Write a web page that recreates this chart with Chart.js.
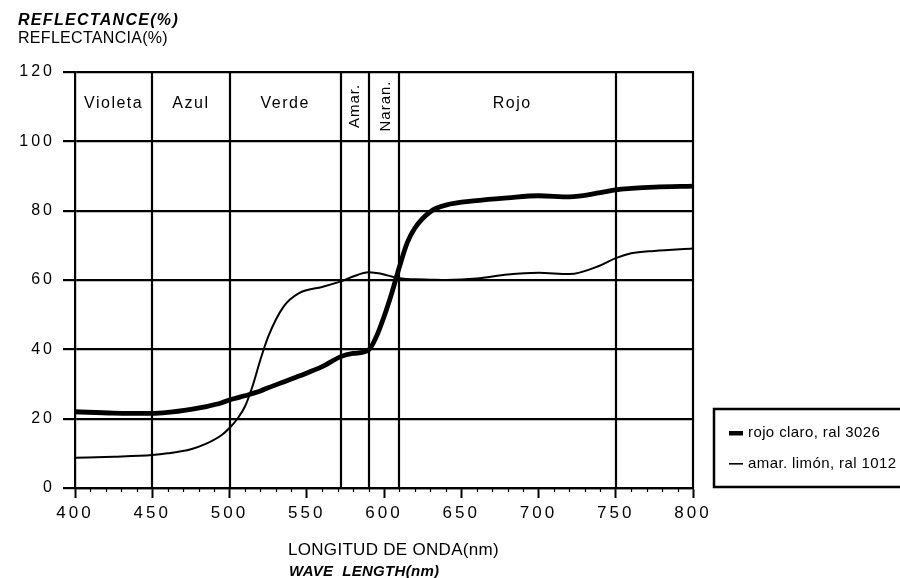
<!DOCTYPE html>
<html>
<head>
<meta charset="utf-8">
<script src="https://cdn.jsdelivr.net/npm/chart.js@4"></script>
<style>
  html, body { margin: 0; padding: 0; background: #fff; }
  #chart { display: block; }
</style>
</head>
<body>
<canvas id="chart" width="900" height="578"></canvas>
<script>
// Datos
const longitudes = [400, 425, 450, 460, 475, 485, 495, 500, 505, 510, 515, 520, 525, 535, 545, 560, 572, 580, 590, 595, 600, 605, 610, 615, 620, 630, 640, 660, 680, 700, 720, 740, 750, 760, 775, 800];
const rojoClaro = [22.0, 21.6, 21.5, 21.8, 22.7, 23.5, 24.6, 25.4, 26.0, 26.6, 27.3, 28.0, 28.9, 30.6, 32.3, 35.0, 37.9, 38.8, 39.8, 43.6, 49.4, 56.2, 63.8, 70.7, 75.0, 79.7, 81.6, 82.9, 83.7, 84.3, 84.0, 85.2, 86.0, 86.4, 86.8, 87.1];
const amarLimon = [8.7, 9.0, 9.5, 10.0, 11.2, 12.8, 15.3, 17.3, 19.9, 23.5, 29.5, 37.0, 43.6, 52.3, 56.2, 58.0, 59.6, 61.0, 62.2, 62.0, 61.6, 61.0, 60.5, 60.3, 60.2, 60.1, 60.0, 60.4, 61.6, 62.1, 61.7, 64.2, 66.3, 67.7, 68.4, 69.1];

const seriesLabels = ['rojo claro, ral 3026', 'amar. limón, ral 1012'];
const yTicks = [0, 20, 40, 60, 80, 100, 120];
const xTicks = [400, 450, 500, 550, 600, 650, 700, 750, 800];

// Bandas de color
const bandLimits = [450, 500, 572, 590, 610, 750, 800];
const bandNames = ['Violeta', 'Azul', 'Verde', 'Amar.', 'Naran.', 'Rojo'];
const bandCenters = [425, 475, 536, 581, 601, 683];
const bandRotated = [false, false, false, true, true, false];

const FONT = "'Liberation Sans', Arial, Helvetica, sans-serif";

const decoPlugin = {
    id: 'deco',
    beforeDraw(chart) {
        chart.ctx.letterSpacing = '3px';
    },
    beforeDatasetsDraw(chart) {
        const { ctx, chartArea, scales } = chart;
        ctx.save();
        ctx.letterSpacing = '0px';
        ctx.strokeStyle = '#000';
        ctx.lineWidth = 2.2;
        bandLimits.forEach(v => {
            const x = Math.round(scales.x.getPixelForValue(v));
            ctx.beginPath();
            ctx.moveTo(x, chartArea.top - 1);
            ctx.lineTo(x, chartArea.bottom);
            ctx.stroke();
        });
        // subdivisiones cada 10 nm
        ctx.lineWidth = 1.2;
        for (let v = scales.x.min + 10; v < scales.x.max; v += 10) {
            if (v % 50 === 0) continue;
            const x = Math.round(scales.x.getPixelForValue(v)) + 0.5;
            ctx.beginPath();
            ctx.moveTo(x, chartArea.bottom);
            ctx.lineTo(x, chartArea.bottom + 4);
            ctx.stroke();
        }
        ctx.restore();
    },
    afterDraw(chart) {
        const { ctx, scales } = chart;
        ctx.save();
        ctx.fillStyle = '#000';

        // nombres de las bandas
        ctx.textBaseline = 'middle';
        ctx.textAlign = 'center';
        bandNames.forEach((name, i) => {
            const x = scales.x.getPixelForValue(bandCenters[i]);
            if (bandRotated[i]) {
                ctx.save();
                ctx.font = '15px ' + FONT;
                ctx.letterSpacing = '1px';
                ctx.translate(x, 106);
                ctx.rotate(-Math.PI / 2);
                ctx.fillText(name, 0, 0);
                ctx.restore();
            } else {
                ctx.font = '16px ' + FONT;
                ctx.letterSpacing = '1.5px';
                ctx.fillText(name, x, 104);
            }
        });

        // títulos de ejes
        ctx.textAlign = 'left';
        ctx.textBaseline = 'alphabetic';
        ctx.font = 'italic bold 16px ' + FONT;
        ctx.letterSpacing = '1.3px';
        ctx.fillText('REFLECTANCE(%)', 18, 25);
        ctx.font = '16px ' + FONT;
        ctx.letterSpacing = '0.3px';
        ctx.fillText('REFLECTANCIA(%)', 18, 43);

        ctx.font = '17px ' + FONT;
        ctx.letterSpacing = '0.3px';
        ctx.fillText('LONGITUD DE ONDA(nm)', 288, 555);
        ctx.font = 'italic bold 15px ' + FONT;
        ctx.letterSpacing = '0.3px';
        ctx.fillText('WAVE  LENGTH(nm)', 289, 576);

        // leyenda
        ctx.letterSpacing = '0.4px';
        ctx.strokeStyle = '#000';
        ctx.lineWidth = 2.5;
        ctx.strokeRect(714, 409, 200, 78);
        ctx.fillRect(729, 431, 14, 4.5);
        ctx.fillRect(729, 463, 14, 1.6);
        ctx.font = '15px ' + FONT;
        ctx.textBaseline = 'middle';
        ctx.fillText(seriesLabels[0], 748, 433);
        ctx.fillText(seriesLabels[1], 748, 464);
        ctx.restore();
    }
};

new Chart(document.getElementById('chart'), {
    type: 'line',
    data: {
        labels: longitudes,
        datasets: [
            {
                label: seriesLabels[0],
                data: longitudes.map((x, i) => ({ x, y: rojoClaro[i] })),
                borderColor: '#000',
                borderWidth: 4.8,
                pointRadius: 0,
                cubicInterpolationMode: 'monotone'
            },
            {
                label: seriesLabels[1],
                data: longitudes.map((x, i) => ({ x, y: amarLimon[i] })),
                borderColor: '#000',
                borderWidth: 2,
                pointRadius: 0,
                cubicInterpolationMode: 'monotone'
            }
        ]
    },
    options: {
        responsive: false,
        animation: false,
        devicePixelRatio: 1,
        layout: { padding: { left: 0, top: 72, right: 207, bottom: 0 } },
        plugins: { legend: { display: false }, tooltip: { enabled: false } },
        scales: {
            x: {
                type: 'linear',
                min: 400,
                max: 800,
                afterFit: s => { s.height = 90; },
                afterBuildTicks: s => { s.ticks = xTicks.map(v => ({ value: v })); },
                ticks: {
                    color: '#000',
                    font: { family: FONT, size: 17 },
                    padding: 5,
                    autoSkip: false,
                    maxRotation: 0
                },
                grid: {
                    drawOnChartArea: false,
                    drawTicks: true,
                    tickLength: 10,
                    tickWidth: 2,
                    tickColor: '#000'
                },
                border: { display: true, color: '#000', width: 2.2 }
            },
            y: {
                min: 0,
                max: 120,
                afterFit: s => { s.width = 75; },
                afterBuildTicks: s => { s.ticks = yTicks.map(v => ({ value: v })); },
                ticks: {
                    color: '#000',
                    font: { family: FONT, size: 16 },
                    padding: 8
                },
                grid: {
                    color: '#000',
                    lineWidth: 2.2,
                    drawTicks: true,
                    tickLength: 12,
                    tickWidth: 2.2,
                    tickColor: '#000'
                },
                border: { display: true, color: '#000', width: 2.2 }
            }
        }
    },
    plugins: [decoPlugin]
});
</script>
</body>
</html>
